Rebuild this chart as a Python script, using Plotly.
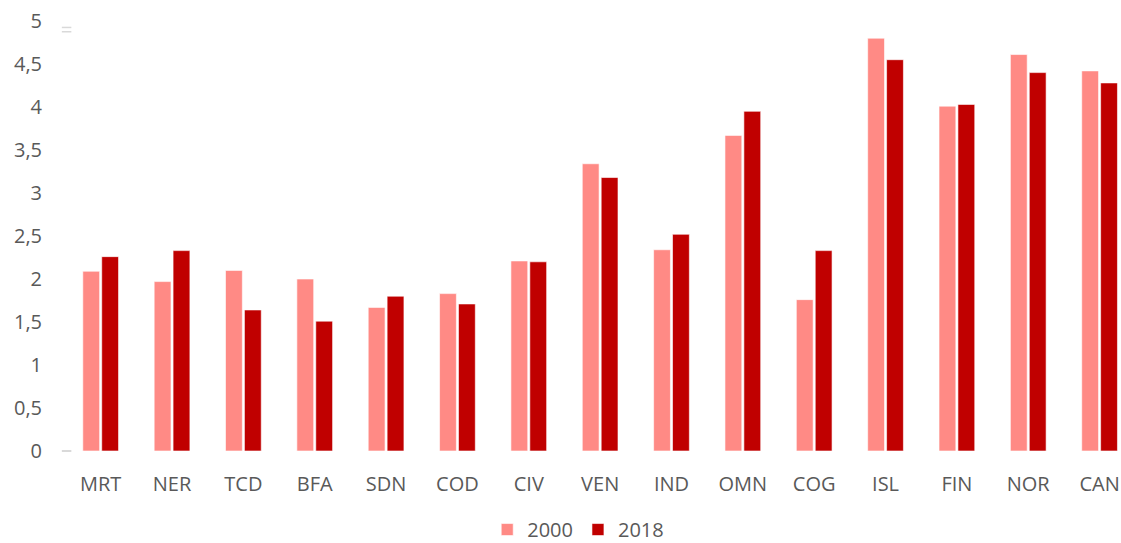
import plotly.graph_objects as go

categories = ["MRT", "NER", "TCD", "BFA", "SDN", "COD", "CIV", "VEN", "IND", "OMN", "COG", "ISL", "FIN", "NOR", "CAN"]
values_2000 = [2.09, 1.97, 2.10, 2.00, 1.67, 1.83, 2.21, 3.34, 2.34, 3.67, 1.76, 4.80, 4.01, 4.61, 4.42]
values_2018 = [2.26, 2.33, 1.64, 1.51, 1.80, 1.71, 2.20, 3.18, 2.52, 3.95, 2.33, 4.55, 4.03, 4.40, 4.28]
y_ticks = [0, 0.5, 1, 1.5, 2, 2.5, 3, 3.5, 4, 4.5, 5]

font_family = "Open Sans, Lato, sans-serif"
text_color = "#595959"

fig = go.Figure()
fig.add_trace(go.Bar(x=categories, y=values_2000, name="2000",
                     marker=dict(color="#FF8A85", line=dict(color="#FFFFFF", width=0.6))))
fig.add_trace(go.Bar(x=categories, y=values_2018, name="2018",
                     marker=dict(color="#C00000", line=dict(color="#FFFFFF", width=0.6))))

fig.update_layout(
    width=1121, height=543,
    margin=dict(l=65, r=0, t=21, b=92, autoexpand=False),
    plot_bgcolor="white", paper_bgcolor="white",
    separators=", ",
    barmode="group", bargap=0.47, bargroupgap=0.11,
    font=dict(family=font_family, size=20, color=text_color),
    xaxis=dict(range=[-0.5, 14.3], showline=False, showgrid=False, ticks="",
               ticklabelstandoff=19, tickfont=dict(size=20, color=text_color)),
    yaxis=dict(range=[0, 5], tickvals=y_ticks, showgrid=False, zeroline=False, showline=False,
               ticks="", ticklabelstandoff=22, tickfont=dict(size=20, color=text_color)),
    legend=dict(orientation="h", x=0.486, xanchor="center", y=-0.228, yanchor="bottom",
                font=dict(size=20, color=text_color), itemwidth=30, traceorder="normal",
                tracegroupgap=0, borderwidth=0),
    showlegend=True,
)

# small light-grey marks at the left edge of the plot
fig.add_shape(type="line", xref="paper", yref="paper", x0=-0.003, x1=0.006, y0=0, y1=0,
              line=dict(color="#D9D9D9", width=2))
fig.add_shape(type="line", xref="paper", yref="paper", x0=-0.003, x1=0.006, y0=0.985, y1=0.985,
              line=dict(color="#D9D9D9", width=1.5))
fig.add_shape(type="line", xref="paper", yref="paper", x0=-0.003, x1=0.006, y0=0.975, y1=0.975,
              line=dict(color="#D9D9D9", width=1.5))

fig.write_html("out.html", config={"displayModeBar": False},
               post_script="document.body.style.margin='0px';document.body.style.overflow='hidden';")
